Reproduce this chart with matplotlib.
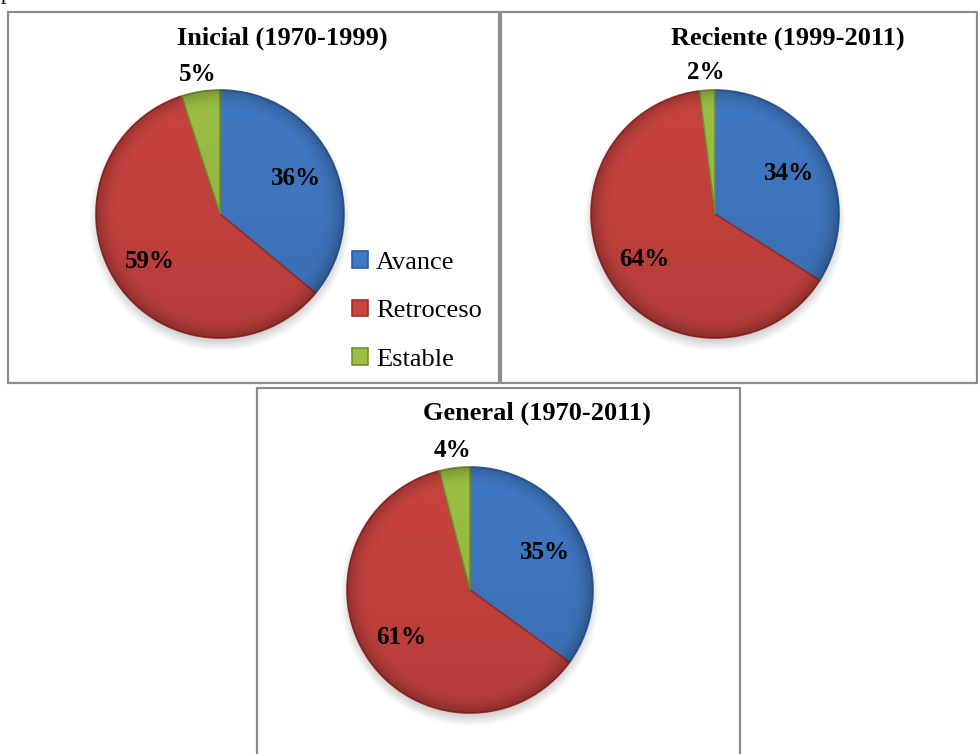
import numpy as np
import matplotlib.pyplot as plt
from matplotlib.patches import Circle, Rectangle

# porcentaje de glaciares por tipo de cambio
categorias = ["Avance", "Retroceso", "Estable"]
inicial = [36, 59, 5]
reciente = [34, 64, 2]
general = [35, 61, 4]
titulos = ["Inicial (1970-1999)", "Reciente (1999-2011)", "General (1970-2011)"]

colores = ["#4079c4", "#c94340", "#9cbf45"]
bordes = ["#2f5f9e", "#9c2f2d", "#75922f"]

W, H = 979, 754
fig = plt.figure(figsize=(W / 100, H / 100), dpi=100)
ax = fig.add_axes([0, 0, 1, 1])

serif = "Liberation Serif"


def fy(y):
    return H - y


def sombra(cx, cy, r):
    # sombra difusa bajo el circulo
    n = 200
    xs = np.linspace(cx - r - 20, cx + r + 20, n)
    ys = np.linspace(cy - r - 20, cy + r + 20, n)
    X, Y = np.meshgrid(xs, ys)
    d = np.sqrt((X - cx) ** 2 + (Y - (cy - 6)) ** 2)
    a = np.clip((r + 8 - d) / 14, 0, 1) * 0.22
    img = np.zeros((n, n, 4))
    img[..., 3] = a
    ax.imshow(img, extent=(xs[0], xs[-1], ys[0], ys[-1]), origin="lower",
              zorder=1, interpolation="bilinear")


def brillo(cx, cy, r):
    # sombreado radial para dar volumen
    n = 300
    xs = np.linspace(cx - r, cx + r, n)
    ys = np.linspace(cy - r, cy + r, n)
    X, Y = np.meshgrid(xs, ys)
    d = np.sqrt((X - cx) ** 2 + (Y - cy) ** 2) / r
    a = 0.22 * np.clip((d - 0.82) / 0.18, 0, 1) ** 2 + 0.10 * (cy - Y + r) / (2 * r)
    img = np.zeros((n, n, 4))
    img[..., 3] = np.clip(a, 0, 1)
    im = ax.imshow(img, extent=(xs[0], xs[-1], ys[0], ys[-1]), origin="lower",
                   zorder=4, interpolation="bilinear")
    im.set_clip_path(Circle((cx, cy), r, transform=ax.transData))


def torta(valores, cx, cy, r, titulo, tx, ty):
    cy = fy(cy)
    sombra(cx, cy, r)
    wedges, _, autot = ax.pie(valores, center=(cx, cy), radius=r, startangle=90,
                              counterclock=False, colors=colores,
                              autopct="%.0f%%", pctdistance=0.68,
                              wedgeprops=dict(linewidth=1.2, zorder=3),
                              textprops=dict(fontsize=18, fontweight="bold",
                                             family=serif, color="black", zorder=6),
                              frame=True)
    for w, b in zip(wedges, bordes):
        w.set_edgecolor(b)
        w.set_zorder(3)
    for w, t in zip(wedges, autot):
        t.set_zorder(6)
        if (w.theta2 - w.theta1) < 36:
            ang = np.deg2rad((w.theta1 + w.theta2) / 2)
            t.set_position((cx + 1.14 * r * np.cos(ang), cy + 1.14 * r * np.sin(ang)))
    brillo(cx, cy, r)
    ax.text(tx, fy(ty), titulo, ha="center", va="center", fontsize=19,
            fontweight="bold", family=serif, zorder=6)
    return wedges


# marcos de cada grafico
for x0, y0, x1, y1 in [(8, 12, 499, 383), (501, 12, 977, 383), (257, 388, 740, 760)]:
    ax.add_patch(Rectangle((x0, fy(y1)), x1 - x0, y1 - y0, fill=False,
                           edgecolor="#8c8c8c", linewidth=1.6, zorder=2))

w1 = torta(inicial, 220, 214, 124, titulos[0], 282, 38)
torta(reciente, 715, 214, 124, titulos[1], 788, 38)
torta(general, 470, 590, 123, titulos[2], 537, 413)

ax.legend(w1, categorias, loc="upper left", bbox_to_anchor=(352 / W, fy(251) / H),
          bbox_transform=fig.transFigure, frameon=False, borderpad=0,
          borderaxespad=0, handlelength=0.6, handleheight=0.6, handletextpad=0.3,
          labelspacing=0.98, prop=dict(family=serif, size=19))

ax.text(1, fy(-1), "p", fontsize=16, family=serif, va="baseline", ha="left")

ax.set_xlim(0, W)
ax.set_ylim(0, H)
ax.set_aspect("equal")
ax.axis("off")

fig.savefig("out.png", dpi=100)
